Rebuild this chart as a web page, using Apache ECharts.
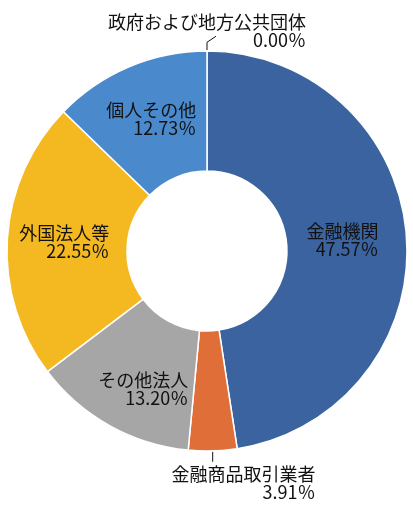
<!DOCTYPE html>
<html>
<head>
<meta charset="utf-8">
<script src="https://cdn.jsdelivr.net/npm/echarts@6/dist/echarts.min.js"></script>
<style>
  html, body { margin: 0; padding: 0; background: #fff; }
  #main { width: 413px; height: 512px; }
</style>
</head>
<body>
<div id="main"></div>
<script>
// 株式の所有者別比率
var categories = ['政府および地方公共団体', '金融機関', '金融商品取引業者', 'その他法人', '外国法人等', '個人その他'];
var shares = [0.00, 47.57, 3.91, 13.20, 22.55, 12.73];
// 外側にラベルを出す項目
var outsideItems = [0, 2];

var colors = ['#7F7F7F', '#3A63A0', '#E06E38', '#A6A6A6', '#F4B920', '#4A8ACC'];

var chart = echarts.init(document.getElementById('main'));

var pieData = categories.map(function (name, i) {
    var item = { name: name, value: shares[i], itemStyle: { color: colors[i] } };
    if (outsideItems.indexOf(i) >= 0) {
        item.label = { position: 'outside' };
        item.labelLine = { show: true };
    }
    return item;
});

var option = {
    animation: false,
    series: [{
        type: 'pie',
        center: [207, 251],
        radius: [80, 200],
        startAngle: 90,
        clockwise: true,
        avoidLabelOverlap: false,
        itemStyle: { borderColor: '#fff', borderWidth: 1.5 },
        label: {
            show: true,
            position: 'inside',
            fontFamily: '"Noto Sans CJK JP", sans-serif',
            formatter: function (p) {
                return '{n|' + p.name + '}\n{n|' + p.value.toFixed(2) + '％}';
            },
            rich: {
                n: {
                    align: 'right',
                    fontSize: 18,
                    lineHeight: 18,
                    color: '#111',
                    fontFamily: '"Noto Sans CJK JP", sans-serif'
                }
            }
        },
        labelLine: {
            show: false,
            lineStyle: { color: '#111', width: 1 }
        },
        // 小さい項目のラベルはExcel風に上下へ置く
        labelLayout: function (p) {
            var r = p.rect;
            var mx = r.x + r.width / 2;
            if (p.dataIndex === 0) {
                return {
                    x: mx, y: r.y - 1,
                    align: 'center', verticalAlign: 'bottom',
                    labelLinePoints: [[mx, r.y], [mx, r.y - 8], [mx + 9, r.y - 14]]
                };
            }
            if (p.dataIndex === 2) {
                var by = r.y + r.height;
                return {
                    x: r.x - 16, y: by + 13,
                    align: 'left', verticalAlign: 'top',
                    labelLinePoints: [[mx, by], [mx, by + 10]]
                };
            }
            // 内側ラベルの微調整
            if (p.dataIndex === 1) {
                return { dx: -7 };
            }
            if (p.dataIndex === 3) {
                return { dx: 6, dy: 13 };
            }
        },
        emphasis: { disabled: true },
        data: pieData
    }]
};

chart.setOption(option);
</script>
</body>
</html>
